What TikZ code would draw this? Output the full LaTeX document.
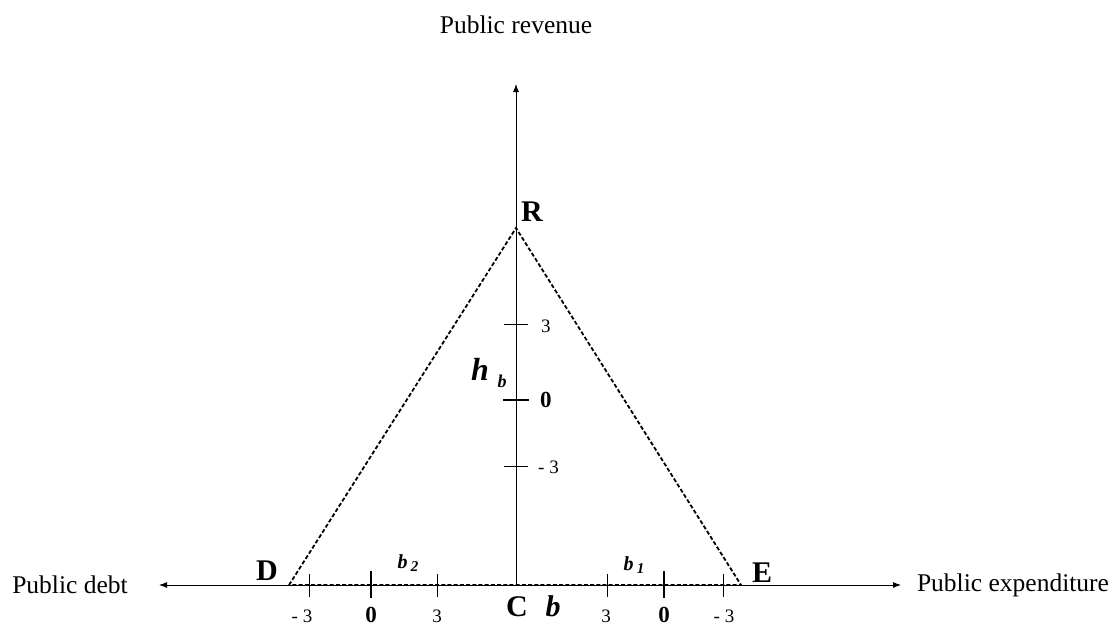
\documentclass[tikz,border=0pt]{standalone}
\usepackage{fontspec}
\setmainfont{Liberation Serif}
\usetikzlibrary{arrows.meta}
\begin{document}
\begin{tikzpicture}[x=1pt,y=-1pt,
  axis/.style={line width=0.9pt,-{Latex[length=8pt,width=6pt]}},
  tri/.style={line width=1.8pt,dash pattern=on 4pt off 2.2pt},
  thintick/.style={line width=0.7pt},
  thicktick/.style={line width=1.8pt},
  lbl/.style={font=\fontsize{25.5}{28}\selectfont},
  pt/.style={font=\fontsize{30}{34}\selectfont\bfseries},
  ticklbl/.style={font=\fontsize{19}{22}\selectfont,inner sep=0pt},
  zerolbl/.style={font=\fontsize{23}{26}\selectfont\bfseries,inner sep=0pt},
  sublbl/.style={font=\fontsize{20}{23}\selectfont\bfseries\itshape}]
\useasboundingbox (0,0) rectangle (1116,626);
% key points
\coordinate (C) at (516,585);
\coordinate (Rp) at (516,228);
\coordinate (Dp) at (289,585);
\coordinate (Ep) at (741,585);
\coordinate (top) at (516,84);
\coordinate (bot) at (516,586);
\coordinate (left) at (159,585);
\coordinate (right) at (901,585);
% axes
\draw[axis] (bot) -- (top);
\draw[axis] (C) -- (left);
\draw[axis] (C) -- (right);
% triangle
\draw[tri] (Dp) -- (Rp) -- (Ep) -- cycle;
% vertical ticks
\coordinate (v3) at (516,324);
\coordinate (v0) at (516,400);
\coordinate (vm3) at (516,466);
\draw[thintick] ([xshift=-12pt]v3) -- ([xshift=12pt]v3);
\draw[thicktick] ([xshift=-13pt]v0) -- ([xshift=13pt]v0);
\draw[thintick] ([xshift=-12pt]vm3) -- ([xshift=12pt]vm3);
\node[ticklbl,anchor=west] (lv3) at (541,326) {3};
\node[zerolbl,anchor=west] (lv0) at (540,400) {0};
\node[ticklbl,anchor=west] (lvm3) at (538,467) {- 3};
% horizontal ticks
\foreach \x in {309,437,607,723}{
  \draw[thintick] (\x,574) -- (\x,597);
}
\foreach \x in {371,664}{
  \draw[thicktick] (\x,571) -- (\x,598);
}
\node[ticklbl] (tlm3) at (302,616) {- 3};
\node[zerolbl] (tl0) at (371,615) {0};
\node[ticklbl] (tl3) at (437,616) {3};
\node[ticklbl] (tr3) at (606,616) {3};
\node[zerolbl] (tr0) at (664,615) {0};
\node[ticklbl] (trm3) at (724,616) {- 3};
% point labels
\node[pt] (R) at (532,212) {R};
\node[pt] (D) at (267,571) {D};
\node[pt] (E) at (762,573) {E};
\node[pt] (Cl) at (517,607) {C};
\node[font=\fontsize{30}{34}\selectfont\bfseries\itshape] (bl) at (553,606) {b};
\node[sublbl] (b2) at (408,563) {b\,\raisebox{-3pt}{\fontsize{15}{17}\selectfont 2}};
\node[sublbl] (b1) at (634,565) {b\,\raisebox{-3pt}{\fontsize{15}{17}\selectfont 1}};
\node[font=\fontsize{32}{36}\selectfont\bfseries\itshape] (hb) at (480,369) {h};
\node[font=\fontsize{18}{20}\selectfont\bfseries\itshape] (hbs) at (502,381) {b};
% axis titles
\node[lbl] (rev) at (516,25) {Public revenue};
\node[lbl] (debt) at (70,585) {Public debt};
\node[lbl] (exp) at (1013,585) {Public expenditure};
\end{tikzpicture}
\end{document}
